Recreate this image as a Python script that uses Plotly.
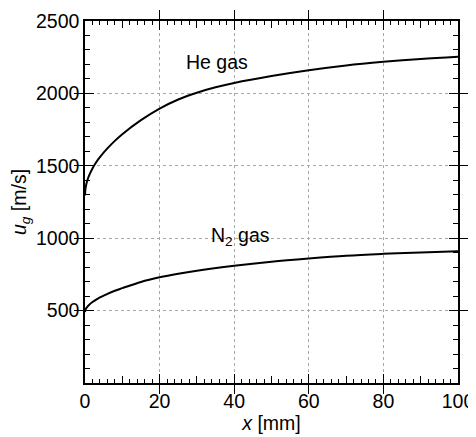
import plotly.graph_objects as go

# Data
x_he = [0, 0.1, 0.25, 0.5, 1, 2, 3, 4, 6, 8, 10, 15, 20, 25, 30, 35, 40, 50, 60, 70, 80, 90, 100]
u_he = [1295, 1337, 1361, 1388, 1427, 1482, 1525, 1560, 1620, 1672, 1718, 1815, 1895, 1958, 2005, 2042, 2072, 2120, 2160, 2193, 2218, 2238, 2253]
x_n2 = [0, 0.1, 0.25, 0.5, 1, 2, 3, 4, 6, 8, 10, 15, 20, 25, 30, 40, 50, 60, 70, 80, 90, 100]
u_n2 = [490, 505, 513, 522, 537, 559, 576, 591, 615, 637, 655, 698, 730, 755, 776, 810, 838, 860, 879, 892, 902, 910]

x_major = [0, 20, 40, 60, 80, 100]
x_mid = [10, 30, 50, 70, 90]
y_major = [0, 500, 1000, 1500, 2000, 2500]
y_labels = ["", "500", "1000", "1500", "2000", "2500"]

FONT = "Liberation Sans, Arial, sans-serif"
FS = 19.5

fig = go.Figure()
fig.add_trace(go.Scatter(x=x_he, y=u_he, mode="lines", line=dict(color="black", width=2, shape="spline", smoothing=1.0), showlegend=False))
fig.add_trace(go.Scatter(x=x_n2, y=u_n2, mode="lines", line=dict(color="black", width=2, shape="spline", smoothing=1.0), showlegend=False))

grid = dict(showgrid=True, gridcolor="#a8a8a8", gridwidth=1, griddash="dot")

# page body has an 8px margin, so the figure is 8px smaller and the left/top margins shifted
fig.update_layout(
    width=468, height=429,
    margin=dict(l=77, r=18, t=13, b=54, autoexpand=False),
    paper_bgcolor="white", plot_bgcolor="white",
    font=dict(family=FONT, size=FS, color="black"),
    xaxis=dict(
        range=[0, 100], tickvals=x_major, ticks="inside", ticklen=9, tickwidth=1.2, tickcolor="black",
        showline=True, linecolor="black", linewidth=1.5, mirror="allticks", zeroline=False,
        automargin=False,
        title=dict(text="<i>x</i> [mm]", standoff=5, font=dict(size=FS)),
        tickfont=dict(size=FS), **grid,
    ),
    yaxis=dict(
        range=[0, 2500], tickvals=y_major, ticktext=y_labels, ticks="inside", ticklen=9, tickwidth=1.2,
        tickcolor="black", showline=True, linecolor="black", linewidth=1.5, mirror="allticks", zeroline=False,
        automargin=False,
        title=dict(text="<i>u</i><sub><i>g</i></sub> [m/s]", standoff=4, font=dict(size=FS)),
        tickfont=dict(size=FS), **grid,
    ),
    annotations=[
        dict(x=35.4, y=2218, text="He gas", showarrow=False, font=dict(size=FS)),
        dict(x=41.6, y=1010, text="N<sub>2</sub> gas", showarrow=False, font=dict(size=FS)),
    ],
)

# extra tick-only axes (mid ticks every 10 on x, minor ticks every 2 on x and every 100 on y)
def tick_axis(rng, dtick=None, tickvals=None, ticklen=4, anchor="y"):
    d = dict(range=rng, ticks="inside", ticklen=ticklen, tickwidth=1, tickcolor="black",
             showticklabels=False, showgrid=False, zeroline=False, showline=False,
             mirror="allticks", anchor=anchor, automargin=False)
    if dtick is not None:
        d.update(dtick=dtick, tick0=0)
    if tickvals is not None:
        d.update(tickvals=tickvals, tickmode="array")
    return d

fig.update_layout(
    xaxis2=dict(overlaying="x", side="bottom", **tick_axis([0, 100], tickvals=x_mid, ticklen=7, anchor="y")),
    xaxis3=dict(overlaying="x", side="bottom", **tick_axis([0, 100], dtick=2, ticklen=4, anchor="y")),
    yaxis2=dict(overlaying="y", side="left", **tick_axis([0, 2500], dtick=100, ticklen=5, anchor="x")),
)
fig.add_trace(go.Scatter(x=[0], y=[0], xaxis="x2", yaxis="y", mode="markers", marker=dict(opacity=0), showlegend=False, hoverinfo="skip"))
fig.add_trace(go.Scatter(x=[0], y=[0], xaxis="x3", yaxis="y", mode="markers", marker=dict(opacity=0), showlegend=False, hoverinfo="skip"))
fig.add_trace(go.Scatter(x=[0], y=[0], xaxis="x", yaxis="y2", mode="markers", marker=dict(opacity=0), showlegend=False, hoverinfo="skip"))

fig.write_html("out.html")
